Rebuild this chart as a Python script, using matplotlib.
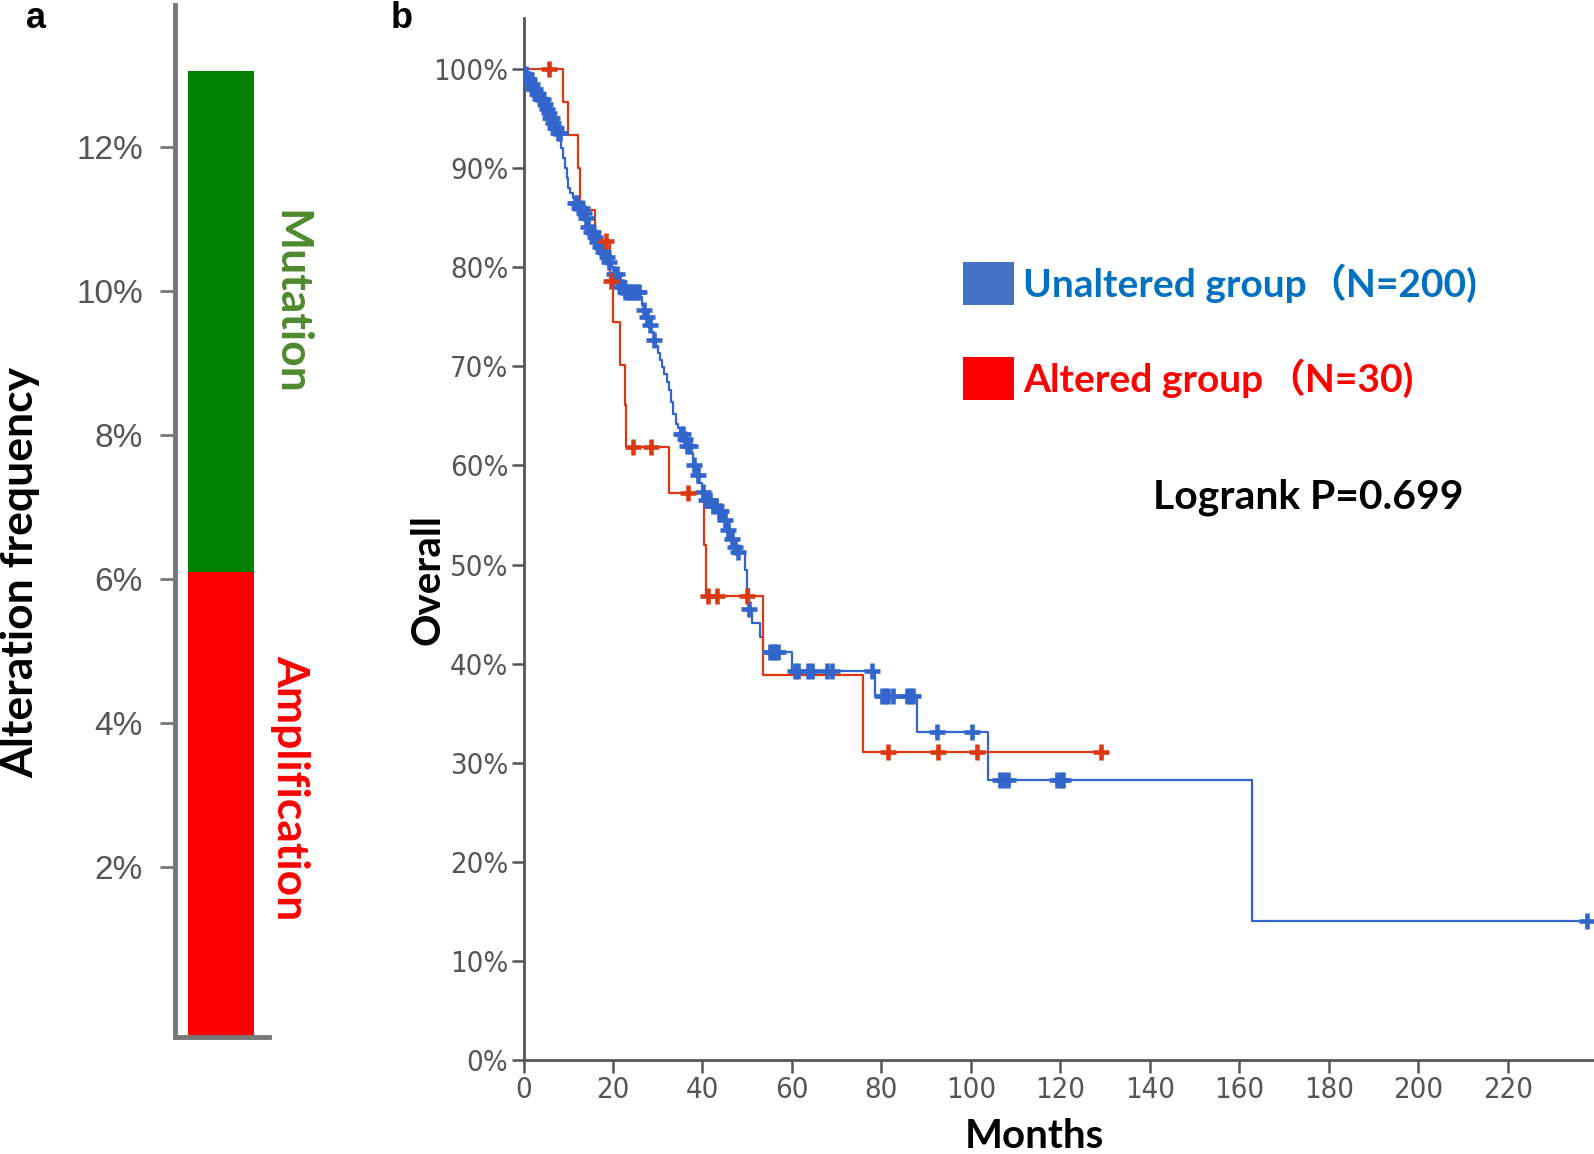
import numpy as np
import matplotlib
matplotlib.use("Agg")
import matplotlib.pyplot as plt
from matplotlib.patches import Rectangle
from matplotlib import font_manager as fm

# ---------------- data ----------------
# panel a: alteration frequency (%)
alt_types = ["Amplification", "Mutation"]
alt_freq = [6.09, 6.96]
alt_colors = ["#ff0000", "#008000"]
a_ticks = [2, 4, 6, 8, 10, 12]
a_ticklabels = ["2%", "4%", "6%", "8%", "10%", "12%"]

# panel b: Kaplan-Meier steps (months, survival %)
blue_t = [0, 0.5, 1, 1.5, 2, 3, 3.5, 4.5, 5, 5.5, 6, 6.5, 7, 7.5, 8.3, 8.8, 9.3, 9.7,
          10, 10.5, 11, 11.5, 12.5, 13.5, 14, 14.5, 15, 15.6, 16.5, 17, 17.8, 18.6,
          19.2, 19.8, 20.2, 21, 21.8, 22.5, 26, 26.5, 27, 27.5, 28, 28.5, 29.2, 29.6,
          30, 30.5, 31, 31.5, 32, 32.5, 33, 33.5, 34, 34.5, 35, 36, 36.5, 37.5, 38,
          38.7, 39, 40, 40.5, 42, 43.5, 44.5, 45.5, 46.3, 47, 47.8, 49.5, 49.9, 50.3,
          51, 52.8, 53.6, 60, 78.6, 88, 103.9, 162.8]
blue_s = [100, 99.5, 99, 98.5, 98, 97.5, 97, 96.5, 96, 95.5, 95, 94.5, 94, 93.5, 92,
          91, 90, 89, 88, 87.5, 87, 86.5, 86, 85.5, 85, 84, 83.5, 83, 82.5, 82, 81.5,
          81, 80.5, 80, 79.3, 78.5, 78, 77.5, 77, 76.2, 75.7, 75, 74.2, 73.5, 72.7,
          72, 71.3, 70.6, 69.9, 69.2, 68.4, 67.6, 66.4, 65.2, 64.2, 63.8, 63.2, 62.7,
          62, 61.3, 60, 59, 58.2, 57.3, 56.5, 55.9, 55.4, 54.5, 53.5, 52.6, 51.8,
          51.3, 49.5, 47.5, 45.5, 44.1, 42.7, 41.2, 39.3, 36.7, 33.1, 28.3, 14.1]
blue_end = 237.8
blue_cens = [0.5, 1, 1.3, 1.8, 2.2, 2.6, 3, 3.3, 3.7, 4, 4.4, 4.8, 5.2, 5.6, 6, 6.3,
             6.7, 7, 7.3, 7.8, 8.2, 11.5, 12, 12.5, 13, 13.5, 14, 14.5, 15, 15.5, 16,
             16.5, 17.2, 17.8, 18.6, 19.2, 20.2, 20.8, 21.3, 21.8, 22.3, 22.8, 23.3,
             23.8, 24.3, 24.8, 25.3, 25.8, 27, 27.5, 28.3, 29.2, 35.2, 35.6, 36.1,
             36.6, 37.2, 38.2, 38.9, 40.2, 40.8, 41.3, 41.8, 42.4, 43, 43.6, 44.2, 45,
             45.8, 46.5, 47.2, 47.9, 50.3, 55.1, 55.8, 56.3, 57, 60.7, 61.3, 63.7,
             64.4, 67.8, 68.9, 77.8, 80.1, 80.7, 81.5, 82.7, 85.7, 86.4, 87.1, 92.4,
             100.2, 106.5, 107.4, 108.4, 119.2, 120.1, 120.7, 237.8]

red_t = [0, 8.9, 10.0, 12.2, 12.6, 16.0, 19.3, 20.1, 21.6, 22.7, 23.0, 32.6, 40.3,
         40.9, 53.5, 76.0]
red_s = [100, 96.7, 93.3, 90.0, 85.8, 82.6, 78.6, 74.5, 70.1, 66.1, 61.9, 57.2, 52.0,
         46.8, 38.9, 31.1]
red_end = 129.2
red_cens = [5.7, 18.4, 19.6, 24.5, 28.6, 36.8, 41.3, 43.2, 49.9, 81.5, 92.7, 101.3,
            129.2]

b_xticks = list(range(0, 240, 20))
b_yticks = list(range(0, 101, 10))
b_yticklabels = [f"{v}%" for v in b_yticks]

groups = ["Unaltered group", "Altered group"]
group_n = ["（N=200)", "（N=30)"]
pvalue_text = "Logrank P=0.699"

# ---------------- fonts ----------------
names = {f.name for f in fm.fontManager.ttflist}
cond = [f for f in fm.fontManager.ttflist
        if f.name == "DejaVu Sans" and str(f.stretch) in ("condensed", "semi-condensed")
        and f.weight in (400, "normal") and f.style == "normal"]
if "Liberation Sans Narrow" in names:
    tick_b_kw = dict(family=["Liberation Sans Narrow"], fontsize=23)
elif cond:
    tick_b_kw = dict(family=["DejaVu Sans"], fontstretch="condensed", fontsize=21)
else:
    tick_b_kw = dict(family=["Liberation Sans", "DejaVu Sans"], fontsize=20)

# ---------------- figure ----------------
W, H = 1594, 1154
fig = plt.figure(figsize=(W / 100, H / 100), dpi=100)
fig.patch.set_facecolor("white")

bold_font = ["Lato", "Noto Sans CJK SC", "DejaVu Sans"]
tick_font_a = ["Liberation Sans", "DejaVu Sans"]

# ---------- panel a ----------
axa = fig.add_axes([175 / W, 1 - 1037 / H, (269 - 175) / W, (1037 - 5) / H])
ya0, ya1 = -0.36, 13.97
bottom = ya0
for name, val, col in zip(alt_types, alt_freq, alt_colors):
    top = (bottom if bottom > 0 else 0) + val
    axa.bar([0], [top - bottom], bottom=bottom, width=0.70, color=col,
            edgecolor="none", zorder=2)
    bottom = top
axa.set_xlim(-0.489, 0.511)
axa.set_ylim(ya0, ya1)
for s in ["top", "right"]:
    axa.spines[s].set_visible(False)
for s in ["left", "bottom"]:
    axa.spines[s].set_color("#777777")
    axa.spines[s].set_linewidth(3.5)
axa.set_xticks([])
axa.set_yticks(a_ticks)
axa.set_yticklabels(a_ticklabels, family=tick_font_a, fontsize=24, color="#555555")
axa.tick_params(axis="y", length=11, width=2, color="#777777", pad=12)

fig.text(20 / W, 1 - 572 / H, "Alteration frequency", rotation=90, ha="center",
         va="center", fontsize=32, fontweight="bold", family=bold_font, color="black")
fig.text(290 / W, 1 - 302 / H, "Mutation", rotation=-90, ha="center", va="center",
         fontsize=32, fontweight="bold", family=bold_font, color="#4f8a2f")
fig.text(290 / W, 1 - 788 / H, "Amplification", rotation=-90, ha="center",
         va="center", fontsize=32, fontweight="bold", family=bold_font, color="#ff0000")
fig.text(36 / W, 1 - 18 / H, "a", ha="center", va="center", fontsize=26,
         fontweight="bold", family=["Liberation Sans", "DejaVu Sans"])
fig.text(402 / W, 1 - 18 / H, "b", ha="center", va="center", fontsize=26,
         fontweight="bold", family=["Liberation Sans", "DejaVu Sans"])

# ---------- panel b ----------
axb = fig.add_axes([523.5 / W, 1 - 1060.3 / H, (W - 523.5) / W, (1060.3 - 18.3) / H])


def km(ax, t, s, end, cens, color):
    tt = list(t) + [end]
    ss = list(s) + [s[-1]]
    ax.step(tt, ss, where="post", color=color, lw=1.6, zorder=3)
    ta = np.asarray(t)
    sa = np.asarray(s)
    c = np.asarray(cens)
    idx = np.searchsorted(ta, c, side="right") - 1
    ax.plot(c, sa[idx], linestyle="none", marker="+", markersize=12,
            markeredgewidth=3.3, color=color, zorder=4)


km(axb, blue_t, blue_s, blue_end, blue_cens, "#3366cc")
km(axb, red_t, red_s, red_end, red_cens, "#dc3912")

axb.set_xlim(0, 239.3)
axb.set_ylim(0, 105.1)
for s in ["top", "right"]:
    axb.spines[s].set_visible(False)
for s in ["left", "bottom"]:
    axb.spines[s].set_color("#555555")
    axb.spines[s].set_linewidth(2)
axb.set_xticks(b_xticks)
axb.set_xticklabels([str(v) for v in b_xticks], color="#555555", **tick_b_kw)
axb.set_yticks(b_yticks)
axb.set_yticklabels(b_yticklabels, color="#555555", **tick_b_kw)
axb.tick_params(axis="both", length=9, width=1.8, color="#555555", pad=2)

fig.text(428 / W, 1 - 580 / H, "Overall", rotation=90, ha="center", va="center",
         fontsize=29, fontweight="bold", family=bold_font)
fig.text(1034 / W, 1 - 1148 / H, "Months", ha="center", va="baseline", fontsize=29,
         fontweight="bold", family=bold_font)

# legend
leg_sq_colors = ["#4472c4", "#ff0000"]
leg_txt_colors = ["#0070c0", "#ff0000"]
sq_top = [262, 357]
base = [297, 392]
n_x = [1307, 1266]
for g, n, sc, tc, st, b, nx in zip(groups, group_n, leg_sq_colors, leg_txt_colors,
                                   sq_top, base, n_x):
    fig.patches.append(Rectangle((963 / W, 1 - (st + 43) / H), 51 / W, 43 / H,
                                 transform=fig.transFigure, facecolor=sc,
                                 edgecolor="none"))
    fig.text(1023 / W, 1 - b / H, g, ha="left", va="baseline", fontsize=28,
             fontweight="bold", family=bold_font, color=tc)
    fig.text(nx / W, 1 - b / H, n, ha="left", va="baseline", fontsize=28,
             fontweight="bold", family=bold_font, color=tc)

fig.text(1153 / W, 1 - 508 / H, pvalue_text, ha="left", va="baseline", fontsize=29.4,
         fontweight="bold", family=bold_font, color="black")

fig.savefig("out.png", dpi=100, facecolor="white")
